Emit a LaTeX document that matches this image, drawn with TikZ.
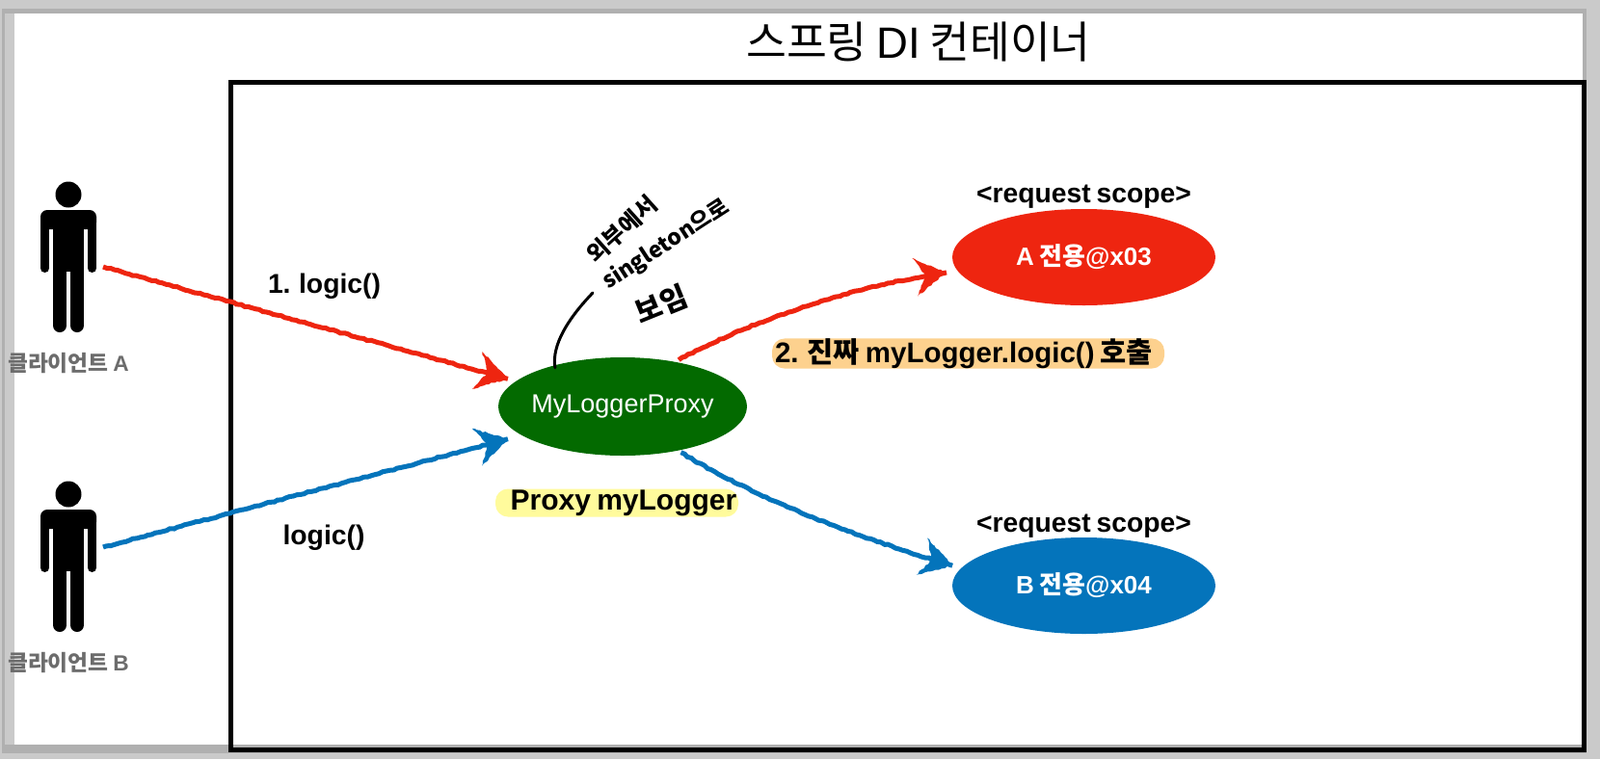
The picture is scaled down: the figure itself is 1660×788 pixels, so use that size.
\documentclass[tikz,border=0pt]{standalone}
\usepackage{fontspec}
\usepackage{xcolor}
\setmainfont{Liberation Sans}[WordSpace=0.75]
\newfontfamily\krfont{Noto Sans CJK KR}
\usetikzlibrary{calc}
\usetikzlibrary{shapes.geometric}
\usetikzlibrary{decorations.pathmorphing}
\usetikzlibrary{decorations.markings}
\definecolor{framegray}{HTML}{CACACA}
\definecolor{bandgray}{HTML}{B0B0B0}
\definecolor{labelgray}{HTML}{6C6C6C}
\definecolor{proxygreen}{HTML}{036A00}
\definecolor{scopered}{HTML}{EE2510}
\definecolor{scopeblue}{HTML}{0474BB}
\definecolor{markyellow}{HTML}{FFFB9C}
\definecolor{markorange}{HTML}{FDD18E}
\newcommand{\kr}[1]{{\krfont #1}}
\newcommand{\fsize}[1]{\fontsize{#1}{#1}\selectfont}
\newcommand{\low}[2]{\raisebox{-#1pt}{#2}}
\tikzset{
  bean/.style = {ellipse, inner sep=0pt, text=white, minimum width=273pt, minimum height=100pt}
}
\tikzset{
  crayon/.style = {
    preaction = {draw=#1, line width=5pt, decorate,
      decoration={random steps, segment length=4pt, amplitude=0.7pt}},
    postaction = {decorate, decoration={markings, mark=at position 1 with {
      \fill[#1, decoration={random steps, segment length=3pt, amplitude=0.8pt}, decorate]
        (0pt,0pt) -- (-33pt,20pt) -- (-22pt,0pt) -- (-33pt,-20pt) -- cycle;
    }}}
  }
}
\tikzset{
  every node/.style = {font = \bfseries\fsize{28.3}, inner sep=0pt}
}
\tikzset{
  mark label/.style = {rounded corners=13pt, minimum height=29pt}
}
\tikzset{
  hand note/.style = {font = \krfont\bfseries\fsize{23}}
}
\begin{document}
\begin{tikzpicture}[x=1pt, y=-1pt]
  \useasboundingbox (0,0) rectangle (1660,788);
  \fill[framegray] (0,0) rectangle (1660,788);
  \fill[bandgray] (2,9) rectangle (1646,782);
  \fill[framegray] (5,14) rectangle (15,773);
  \fill[white] (15,14) rectangle (1642,773);

  \draw[line width=5pt] (239.5,85.5) rectangle (1643,778);

  \node[font=\fsize{45.5}] (title) at (953,43) {\kr{스프링} DI \kr{컨테이너}};

  % Clients
  \foreach \cname/\cy/\ctext/\chand in {a/0/A/277, b/311/B/257} {
    \begin{scope}[shift={(0,\cy)}]
      \fill (71,202) circle[radius=13.5];
      \fill[rounded corners=7pt] (42,238) -- (42,218) -- (100,218) -- (100,238) -- cycle;
      \fill (55,218) rectangle (87,282);
      \draw[line width=9pt, line cap=round] (46.5,230) -- (46.5,278.5);
      \draw[line width=9pt, line cap=round] (95.5,230) -- (95.5,278.5);
      \draw[line width=14pt, line cap=round] (62,275) -- (62,338);
      \draw[line width=14pt, line cap=round] (80,275) -- (80,338);
      \coordinate (hand\cname) at (107,\chand);
      \node[labelgray, font=\bfseries\fsize{22.7}] (client\cname) at (71,377) {\kr{클라이언트} \ctext};
    \end{scope}
  }

  \node[bean, fill=proxygreen, minimum width=258pt, minimum height=102pt, inner xsep=-4pt,
    font=\fsize{27}] (proxy) at (646,422) {\low{2}{MyLoggerProxy}};
  \node[bean, fill=scopered, font=\bfseries\fsize{26}] (beana) at (1124.5,267) {\low{2}{A \kr{전용}@x03}};
  \node[bean, fill=scopeblue, font=\bfseries\fsize{26}] (beanb) at (1124.5,608) {\low{1}{B \kr{전용}@x04}};

  \node (scopea) at (1124.5,204) {<request scope>};
  \node (scopeb) at (1124.5,546) {<request scope>};

  % Calls
  \path[crayon=scopered] (handa) -- ([shift={(-12,0)}]proxy.165);
  \path[crayon=scopeblue] (handb) -- ([shift={(-12,5)}]proxy.195);
  \path[crayon=scopered] ([shift={(3,-2)}]proxy.40)
    .. controls (775,335) and (880,298) .. ([shift={(-13,0)}]beana.187);
  \path[crayon=scopeblue] ([shift={(2,2)}]proxy.-38)
    .. controls (780,515) and (880,555) .. ([shift={(-11,-1)}]beanb.171);

  \node (calla) at (336.5,297) {1. logic()};
  \node (callb) at (336,558) {logic()};

  \node[mark label, fill=markyellow, minimum width=252pt, font=\bfseries\fsize{30}]
    (proxylabel) at (640,522) {\hspace*{14pt}\low{3}{Proxy myLogger}};
  \node[mark label, fill=markorange, minimum width=407pt, font=\bfseries\fsize{29.5}]
    (calllabel) at (1004.5,367) {\low{2}{2. \kr{진짜} myLogger.logic() \kr{호출}}\hspace*{9pt}};

  % Hand written note
  \node[hand note, rotate=42, font=\krfont\bfseries\fsize{24}] (notea) at (645,238) {외부에서};
  \node[hand note, rotate=33] (noteb) at (691,254) {singleton으로};
  \node[hand note, rotate=22, font=\krfont\bfseries\fsize{30}] (notec) at (686,316) {보임};
  \coordinate (notefoot) at (615,304);
  \draw[line width=3pt, line cap=round] (notefoot)
    .. controls (590,330) and (572,358) .. ([shift={(3,2)}]proxy.150);
\end{tikzpicture}
\end{document}
